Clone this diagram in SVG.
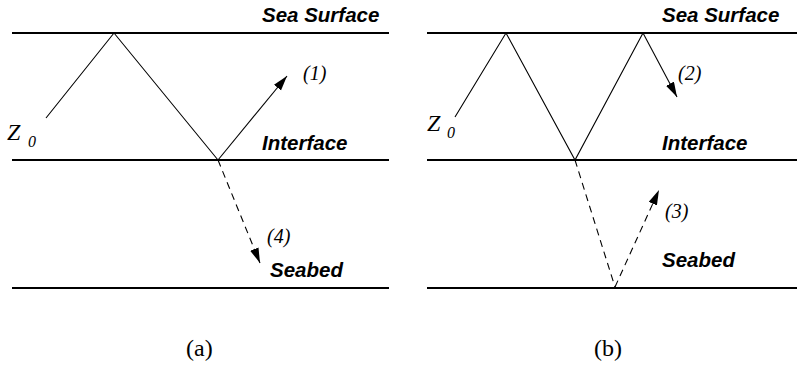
<svg xmlns="http://www.w3.org/2000/svg" width="797" height="368" viewBox="0 0 797 368">
<style>
.bg{fill:#fff}
.layer{stroke:#000;stroke-width:1.8;fill:none}
.ray{stroke:#000;stroke-width:1.1;fill:none}
.dash{stroke:#000;stroke-width:1.1;fill:none;stroke-dasharray:7,5}
.lbl{font-family:"Liberation Sans",Arial,sans-serif;font-weight:bold;font-style:italic;font-size:20.5px;fill:#000}
.num{font-family:"Liberation Serif","Times New Roman",serif;font-style:italic;font-size:20px;fill:#000}
.z{font-family:"Liberation Serif","Times New Roman",serif;font-style:italic;font-size:24px;fill:#000}
.sub{font-family:"Liberation Serif","Times New Roman",serif;font-style:italic;font-size:16px;fill:#000}
.cap{font-family:"Liberation Serif","Times New Roman",serif;font-size:24px;fill:#000}
</style>
<defs>
<marker id="ah" markerUnits="userSpaceOnUse" markerWidth="16" markerHeight="10" refX="15" refY="4.5" orient="auto">
<path d="M0,0 L15,4.5 L0,9 z" fill="#000"/>
</marker>
</defs>
<rect class="bg" x="0" y="0" width="797" height="368"/>
<g id="panel-a">
<g id="layers-a">
<line class="layer" x1="12" y1="33" x2="389" y2="33"/>
<line class="layer" x1="12" y1="160" x2="389" y2="160"/>
<line class="layer" x1="12" y1="288" x2="389" y2="288"/>
</g>
<g id="labels-a">
<text class="lbl" x="262" y="22">Sea Surface</text>
<text class="lbl" x="262" y="150">Interface</text>
<text class="lbl" x="270" y="277">Seabed</text>
<text class="z" x="7" y="140">Z</text>
<text class="sub" x="28" y="147">0</text>
<text class="num" x="303" y="80">(1)</text>
<text class="num" x="267" y="243">(4)</text>
<text class="cap" x="186" y="356">(a)</text>
</g>
</g>
<g id="panel-b">
<g id="layers-b">
<line class="layer" x1="427" y1="33" x2="797" y2="33"/>
<line class="layer" x1="427" y1="160" x2="797" y2="160"/>
<line class="layer" x1="427" y1="288" x2="797" y2="288"/>
</g>
<g id="labels-b">
<text class="lbl" x="662" y="22">Sea Surface</text>
<text class="lbl" x="662" y="150">Interface</text>
<text class="lbl" x="662" y="267">Seabed</text>
<text class="z" x="427" y="131">Z</text>
<text class="sub" x="447" y="138">0</text>
<text class="num" x="678" y="80">(2)</text>
<text class="num" x="665" y="218">(3)</text>
<text class="cap" x="594" y="356">(b)</text>
</g>
</g>
<g id="connectors">
<polyline class="ray" points="46,118 114,33 218,160"/>
<line class="ray" x1="218" y1="160" x2="287" y2="76" marker-end="url(#ah)"/>
<line class="dash" x1="218" y1="160" x2="260" y2="263" marker-end="url(#ah)"/>
<polyline class="ray" points="455,117 506,33 575,160 643,33"/>
<line class="ray" x1="643" y1="33" x2="677" y2="97" marker-end="url(#ah)"/>
<polyline class="dash" points="575,160 615,287"/>
<line class="dash" x1="615" y1="287" x2="659" y2="190" marker-end="url(#ah)"/>
</g>
</svg>
